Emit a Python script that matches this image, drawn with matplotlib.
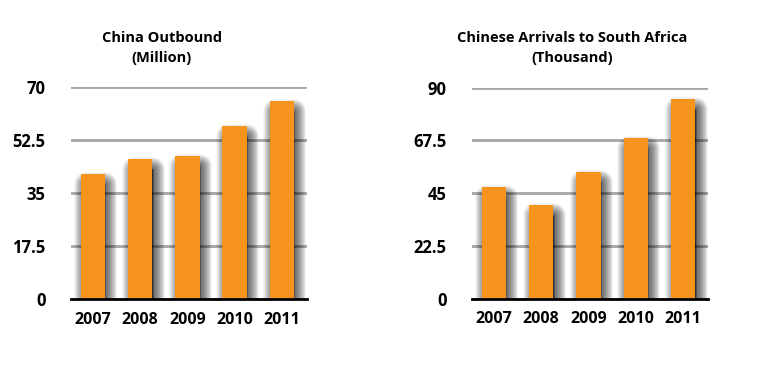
import matplotlib.pyplot as plt
from matplotlib import transforms

years = ["2007", "2008", "2009", "2010", "2011"]
outbound = [41.4, 46.3, 47.3, 57.1, 65.4]
arrivals = [47.4, 40.1, 54.2, 68.4, 85.3]
outbound_ticks = [0, 17.5, 35, 52.5, 70]
arrivals_ticks = [0, 22.5, 45, 67.5, 90]

bar_color = "#F7941E"
font = "Open Sans"

fig = plt.figure(figsize=(7.57, 3.79), dpi=100)


def draw_panel(rect, values, ticks, title, title_x):
    ax = fig.add_axes(rect)
    x = list(range(len(values)))
    # soft drop shadow, built from stacked translucent bars
    tr = transforms.offset_copy(ax.transData, fig=fig, x=3, y=-10, units="dots")
    for i in range(20):
        lw = 0.85 * (i + 1)
        ax.bar(x, values, width=0.4, color="black", alpha=0.04, edgecolor="black",
               linewidth=lw, joinstyle="round", transform=tr, zorder=2, clip_on=True)
    ax.bar(x, values, width=0.52, color=bar_color, zorder=3)
    ax.set_xlim(-0.47, len(values) - 0.47)
    ax.set_ylim(0, ticks[-1])
    ax.set_yticks(ticks)
    ax.set_yticklabels([f"{t:g}" for t in ticks], fontsize=12, fontweight="bold",
                       family=font)
    ax.set_xticks(x)
    ax.set_xticklabels(years, fontsize=11.5, fontweight="bold", family=font)
    ax.tick_params(axis="both", length=0)
    ax.tick_params(axis="y", pad=18)
    ax.tick_params(axis="x", pad=9)
    ax.yaxis.grid(True, color="#A6A6A6", linewidth=2)
    ax.set_axisbelow(True)
    for s in ["top", "right", "left"]:
        ax.spines[s].set_visible(False)
    ax.spines["bottom"].set_linewidth(2)
    ax.spines["bottom"].set_zorder(5)
    fig.text(title_x, 0.873, title, ha="center", va="center", fontsize=10.5,
             fontweight="bold", family=font, linespacing=1.5)
    return ax


draw_panel([0.0934, 0.211, 0.312, 0.559], outbound, outbound_ticks,
           "China Outbound\n(Million)", 162 / 757)
draw_panel([0.623, 0.212, 0.3126, 0.557], arrivals, arrivals_ticks,
           "Chinese Arrivals to South Africa\n(Thousand)", 572 / 757)

fig.savefig("out.png", dpi=100, facecolor="white")
